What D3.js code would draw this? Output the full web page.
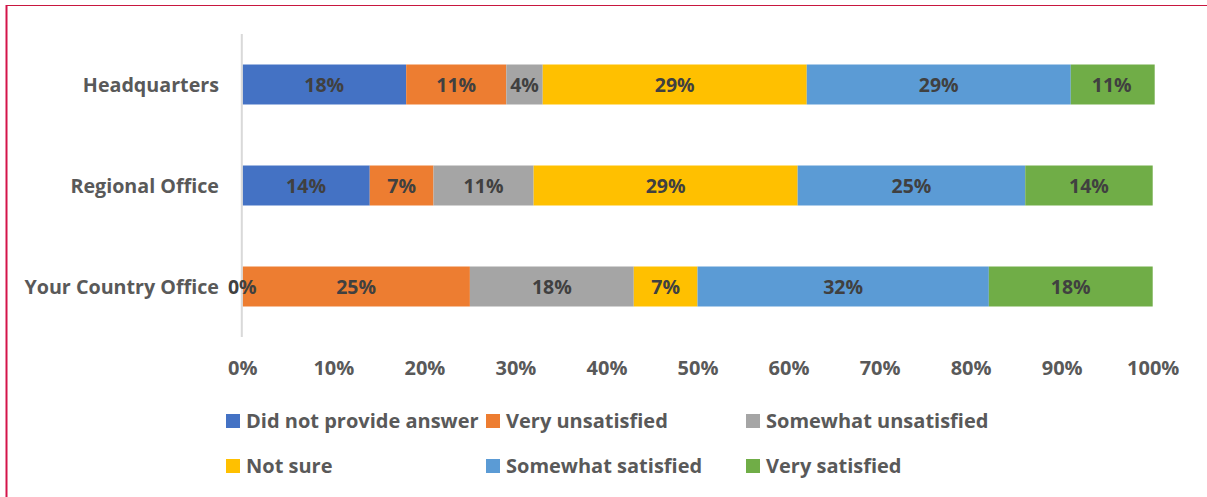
<!DOCTYPE html>
<html>
<head>
<meta charset="utf-8">
<script src="https://cdn.jsdelivr.net/npm/d3@7/dist/d3.min.js"></script>
<style>
  html, body { margin: 0; padding: 0; background: #fff; }
  svg { display: block; font-family: "Open Sans", Lato, sans-serif; }
</style>
</head>
<body>
<svg id="chart" width="1207" height="497"></svg>
<script>
const categories = ["Headquarters", "Regional Office", "Your Country Office"];
const seriesNames = ["Did not provide answer", "Very unsatisfied", "Somewhat unsatisfied", "Not sure", "Somewhat satisfied", "Very satisfied"];
const didNotProvide = [0.18, 0.14, 0.00];
const veryUnsatisfied = [0.11, 0.07, 0.25];
const somewhatUnsatisfied = [0.04, 0.11, 0.18];
const notSure = [0.29, 0.29, 0.07];
const somewhatSatisfied = [0.29, 0.25, 0.32];
const verySatisfied = [0.11, 0.14, 0.18];
const tickValues = [0, 0.1, 0.2, 0.3, 0.4, 0.5, 0.6, 0.7, 0.8, 0.9, 1.0];
const colors = ["#4472C4", "#ED7D31", "#A5A5A5", "#FFC000", "#5B9BD5", "#70AD47"];

const FONT = "'Open Sans', Lato, sans-serif";
const seriesValues = [didNotProvide, veryUnsatisfied, somewhatUnsatisfied, notSure, somewhatSatisfied, verySatisfied];
const rows = categories.map((c, i) => {
  const r = { category: c };
  seriesNames.forEach((s, j) => r[s] = seriesValues[j][i]);
  return r;
});

const svg = d3.select("#chart");

// Frame lines
svg.append("line").attr("x1", 6).attr("x2", 1207).attr("y1", 5.5).attr("y2", 5.5)
  .attr("stroke", "#C8173F").attr("stroke-width", 1.2);
svg.append("line").attr("x1", 6.5).attr("x2", 6.5).attr("y1", 5).attr("y2", 497)
  .attr("stroke", "#D4144A").attr("stroke-width", 2);

const x = d3.scaleLinear().domain([0, 1]).range([242.3, 1152.7]);
const y = d3.scaleBand().domain(categories).range([34, 337]).paddingInner(0.604).paddingOuter(0.302);

const stack = d3.stack().keys(seriesNames);
const stacked = stack(rows);

svg.append("defs").append("clipPath").attr("id", "plotclip")
  .append("rect").attr("x", x(0)).attr("y", 20).attr("width", x(1) - x(0) + 2).attr("height", 330);

const barsG = svg.append("g").attr("clip-path", "url(#plotclip)");
stacked.forEach((layer, j) => {
  barsG.selectAll(null).data(layer).enter().append("rect")
    .attr("x", d => x(d[0]))
    .attr("y", d => y(d.data.category))
    .attr("width", d => Math.max(0, x(d[1]) - x(d[0])))
    .attr("height", y.bandwidth())
    .attr("fill", colors[j]);
});

// Vertical axis line
svg.append("line").attr("x1", x(0) - 0.5).attr("x2", x(0) - 0.5).attr("y1", 34).attr("y2", 337)
  .attr("stroke", "#D9D9D9").attr("stroke-width", 2);

// Data labels
stacked.forEach((layer, j) => {
  svg.selectAll(null).data(layer).enter().append("text")
    .attr("x", d => (x(d[0]) + Math.min(x(d[1]), x(1))) / 2)
    .attr("y", d => y(d.data.category) + y.bandwidth() / 2)
    .attr("dy", "0.36em")
    .attr("text-anchor", "middle")
    .attr("font-family", FONT)
    .attr("font-size", 19.5)
    .attr("font-weight", "bold")
    .attr("fill", "#404040")
    .text(d => d3.format(".0%")(d[1] - d[0]));
});

// Category labels
const yAxis = d3.axisLeft(y).tickSize(0).tickPadding(0);
const yg = svg.append("g").attr("transform", `translate(219,0)`).call(yAxis);
yg.select(".domain").remove();
yg.selectAll("text").attr("font-size", 19.7).attr("font-weight", "bold")
  .attr("fill", "#595959").attr("font-family", FONT).attr("dy", "0.36em");

// X axis tick labels
const xAxis = d3.axisBottom(x).tickValues(tickValues).tickFormat(d3.format(".0%")).tickSize(0).tickPadding(0);
const xg = svg.append("g").attr("transform", `translate(0,368)`).call(xAxis);
xg.select(".domain").remove();
xg.selectAll("text").attr("font-size", 20).attr("font-weight", "bold")
  .attr("fill", "#595959").attr("font-family", FONT).attr("dy", "0.36em");

// Legend
const legendPos = [[226, 421], [486, 421], [746, 421], [226, 466], [486, 466], [746, 466]];
const lg = svg.append("g");
seriesNames.forEach((s, j) => {
  const [lx, ly] = legendPos[j];
  lg.append("rect").attr("x", lx).attr("y", ly - 7).attr("width", 14).attr("height", 14).attr("fill", colors[j]);
  lg.append("text").attr("x", lx + 20).attr("y", ly).attr("dy", "0.36em")
    .attr("font-family", FONT)
    .attr("font-size", 20).attr("font-weight", "bold").attr("fill", "#595959").text(s);
});
</script>
</body>
</html>
